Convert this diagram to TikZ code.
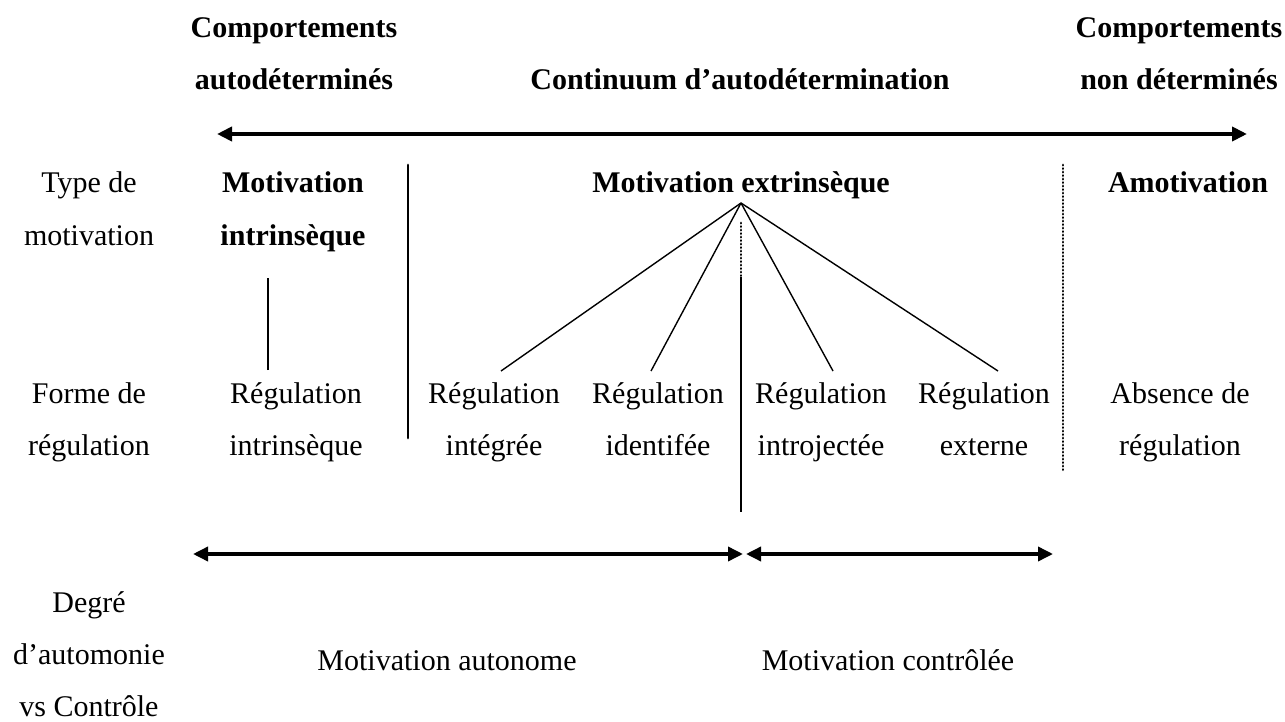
\documentclass[tikz,border=0pt]{standalone}
\usepackage{fontspec}
\setmainfont{Liberation Serif}
\usetikzlibrary{arrows.meta}

\begin{document}
\begin{tikzpicture}[x=1pt,y=-1pt,
  lbl/.style={align=center,anchor=base,inner sep=0pt,font=\fontsize{30}{52}\selectfont},
  hd/.style={lbl,font=\fontsize{30}{52}\selectfont\bfseries},
  thinline/.style={line width=1.4pt},
  dotline/.style={line width=2.8pt,line cap=round,dash pattern=on 0.2pt off 3.3pt},
  bigarrow/.style={line width=4pt,{Triangle[length=15pt,width=14pt]}-{Triangle[length=15pt,width=14pt]}}]

\useasboundingbox (0,0) rectangle (1285,722);

%top labels (base = last line)
\node [hd] (autodet) at (294,90) {Comportements\\autodéterminés};
\node [hd] (contin) at (740,90) {Continuum d’autodétermination};
\node [hd] (nondet) at (1179,90) {Comportements\\non déterminés};

%continuum arrow
\coordinate (ta) at (217,134);
\coordinate (tb) at (1247,134);
\draw [bigarrow] (ta) -- (tb);

%type de motivation
\node [lbl] (typemot) at (89,245) {Type de\\motivation};
\node [hd] (mi) at (293,245) {Motivation\\intrinsèque};
\node [hd] (me) at (741,193) {Motivation extrinsèque};
\node [hd] (amot) at (1188,193) {Amotivation};

%forme de regulation
\node [lbl] (formreg) at (89,455) {Forme de\\régulation};
\node [lbl] (rintr) at (296,455) {Régulation\\intrinsèque};
\node [lbl] (rintg) at (494,455) {Régulation\\intégrée};
\node [lbl] (rident) at (658,455) {Régulation\\identifée};
\node [lbl] (rintro) at (821,455) {Régulation\\introjectée};
\node [lbl] (rext) at (984,455) {Régulation\\externe};
\node [lbl] (rabs) at (1180,455) {Absence de\\régulation};

%tree lines
\coordinate (apex) at ([yshift=-10pt]me.base);
\draw [thinline] ([xshift=-28pt,yshift=85pt]rintr.base) -- ([xshift=-28pt,yshift=177pt]rintr.base);
\draw [thinline] (apex) -- ([xshift=7pt,yshift=84pt]rintg.base);
\draw [thinline] (apex) -- ([xshift=-7pt,yshift=84pt]rident.base);
\draw [thinline] (apex) -- ([xshift=12pt,yshift=84pt]rintro.base);
\draw [thinline] (apex) -- ([xshift=14pt,yshift=84pt]rext.base);

%separators
\coordinate (s1a) at (408,165);
\coordinate (s1b) at (408,438);
\draw [thinline] (s1a) -- (s1b);
\draw [dotline] (s1a) -- (s1b);
\coordinate (s2a) at (741,223);
\coordinate (s2b) at (741,460);
\draw [dotline] (s2a) -- (s2b);
\coordinate (s3a) at (741,277);
\coordinate (s3b) at (741,512);
\draw [thinline] (s3a) -- (s3b);
\coordinate (s4a) at (1063,165);
\coordinate (s4b) at (1063,470);
\draw [dotline] (s4a) -- (s4b);

%autonomie vs controle arrows
\coordinate (ba) at (193,554);
\coordinate (bb) at (743,554);
\coordinate (bc) at (746,554);
\coordinate (bd) at (1053,554);
\draw [bigarrow,line width=3.5pt] (ba) -- (bb);
\draw [bigarrow,line width=3.5pt] (bc) -- (bd);

%degre labels
\node [lbl] (degre) at (89,716) {Degré\\d’automonie\\vs Contrôle};
\node [lbl] (auton) at (447,670) {Motivation autonome};
\node [lbl] (contr) at (888,670) {Motivation contrôlée};

\end{tikzpicture}
\end{document}
